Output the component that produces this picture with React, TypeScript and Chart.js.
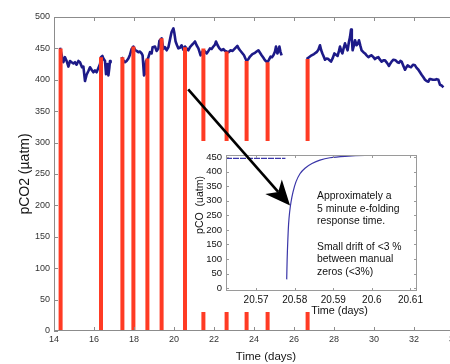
import React, { useEffect, useRef } from 'react';
import { Chart, registerables } from 'chart.js';

Chart.register(...registerables);

// ---------- main chart data ----------
const xTickDays = [14, 16, 18, 20, 22, 24, 26, 28, 30, 32, 34];
const yTickValues = [0, 50, 100, 150, 200, 250, 300, 350, 400, 450, 500];

// pCO2 time series (null = gap in record)
const seriesDays = [
  14.30, 14.38, 14.47, 14.55, 14.63, 14.72, 14.80, 14.88, 14.97, 15.05, 15.13, 15.22, 15.30, 15.40, 15.47, 15.55,
  15.63, 15.72, 15.80, 15.88, 15.97, 16.05, 16.13, 16.22, 16.30, 16.35, 16.42, 16.47, 16.55, 16.60, 16.67, 16.72,
  16.77, 16.80, 16.83,
  17.10,
  17.38, 17.45, 17.55, 17.63, 17.72, 17.80, 17.88, 17.97, 18.05, 18.13, 18.22, 18.30, 18.38, 18.43, 18.50, 18.55,
  18.60, 18.67, 18.72, 18.80, 18.88, 18.93, 19.05, 19.13, 19.22, 19.27, 19.38, 19.47, 19.55, 19.63, 19.72, 19.83,
  19.88, 19.97, 20.02, 20.08, 20.15, 20.22, 20.30, 20.38, 20.47, 20.55, 20.63, 20.72, 20.80, 20.88, 20.97, 21.05,
  21.13, 21.22, 21.33, 21.40, 21.47, 21.55, 21.63, 21.72, 21.80, 21.88, 21.97, 22.05, 22.10, 22.18, 22.27, 22.37,
  22.47, 22.55, 22.63, 22.72, 22.83, 22.93, 23.05, 23.17, 23.23, 23.30, 23.40, 23.50, 23.57, 23.63, 23.72, 23.80,
  23.92, 24.05, 24.13, 24.22, 24.30, 24.38, 24.47, 24.55, 24.62, 24.68, 24.75, 24.83, 24.90, 24.97, 25.05, 25.10,
  25.17, 25.22, 25.27, 25.32, 25.38,
  26.00,
  26.63, 26.75, 26.88, 27.00, 27.13, 27.22, 27.30, 27.36, 27.42, 27.50, 27.55, 27.63, 27.72, 27.78, 27.85, 27.93,
  28.02, 28.10, 28.18, 28.25, 28.30, 28.36, 28.42, 28.48, 28.55, 28.62, 28.68, 28.75, 28.80, 28.85, 28.89, 28.93,
  29.00, 29.05, 29.13, 29.20, 29.25, 29.32, 29.38, 29.47, 29.55, 29.63, 29.72, 29.80, 29.88, 29.97, 30.05, 30.13,
  30.22, 30.30, 30.38, 30.47, 30.55, 30.65, 30.75, 30.82, 30.88, 30.97, 31.08, 31.17, 31.25, 31.32, 31.38, 31.47,
  31.55, 31.62, 31.68, 31.77, 31.85, 31.95, 32.05, 32.13, 32.22, 32.30, 32.38, 32.47, 32.55, 32.63, 32.72, 32.78,
  32.85, 32.95, 33.05, 33.13, 33.22, 33.30, 33.38, 33.47,
];
const seriesValues = [
  451, 440, 428, 436, 430, 421, 430, 428, 426, 428, 424, 430, 428, 420, 421, 398,
  408, 414, 420, 416, 412, 415, 412, 419, 425, 436, 438, 434, 430, 409, 425, 407,
  420, 430, 428,
  null,
  436, 432, 428, 430, 434, 440, 449, 453, 448, 446, 444, 445, 442, 439, 407, 410,
  430, 432, 436, 444, 442, 452, 453, 446, 450, 462, 466, 449, 452, 447, 452, 469,
  476, 482, 474, 461, 455, 450, 451, 455, 448, 453, 450, 447, 452, 455, 458, 461,
  455, 450, 439, 444, 447, 445, 442, 446, 450, 449, 453, 456, 461, 455, 450, 447,
  449, 446, 445, 444, 447, 446, 450, 454, 450, 447, 443, 439, 434, 430, 433, 437,
  441, 443, 445, 447, 443, 439, 435, 431, 429, 428, 432, 437, 436, 439, 445, 453,
  442, 446, 453, 445, 439,
  null,
  433, 436, 439, 441, 444, 448, 455, 447, 442, 436, 432, 434, 433, 431, 429, 434,
  442, 440, 438, 446, 453, 446, 442, 450, 458, 452, 447, 461, 468, 480, 466, 447,
  455, 463, 455, 458, 463, 454, 447, 444, 442, 439, 436, 438, 439, 436, 433, 435,
  436, 432, 429, 431, 431, 427, 422, 426, 429, 432, 431, 428, 427, 430, 429, 422,
  416, 420, 423, 421, 420, 424, 423, 419, 416, 412, 408, 404, 400, 398, 397, 401,
  401, 400, 400, 401, 400, 392, 391, 388,
];

// manual zero calibrations: time and reading just before the zero
const zeroDays = [14.33, 16.35, 17.42, 17.97, 18.67, 19.38, 20.55, 21.47, 22.63, 23.63, 24.68, 26.68];
const zeroTops = [450, 436, 436, 453, 434, 466, 452, 450, 445, 430, 428, 433];

// ---------- inset data ----------
const insetXTicks = [20.57, 20.58, 20.59, 20.6, 20.61];
const insetYTicks = [0, 50, 100, 150, 200, 250, 300, 350, 400, 450];
const insetFlatDays = [20.5622, 20.5700, 20.5776];
const insetFlatValues = [446, 446, 446];
const insetRiseDays = [
  20.57793, 20.57805, 20.57821, 20.57842, 20.57868, 20.57904, 20.57956, 20.58033,
  20.58137, 20.58267, 20.58448, 20.58655, 20.58914, 20.59303, 20.59821, 20.61168,
];
const insetRiseValues = [30, 100, 160, 220, 260, 295, 330, 365, 393, 412, 428, 440, 448, 453, 456, 457];
const arrowFrom = { x: 20.5524, y: 683 };
const arrowTo = { x: 20.5788, y: 284 };
const noteLines = [
  'Approximately a',
  '5 minute e-folding',
  'response time.',
  '',
  'Small drift of <3 %',
  'between manual',
  'zeros (<3%)',
];

const FONT = "'Liberation Sans', Arial, Helvetica, sans-serif";
const NAVY = '#1d1a88';
const RED = '#ff3b24';
const FRAME = '#8c8c8c';

function fixTicks(values: number[]) {
  return (scale: any) => {
    scale.ticks = values.map((v) => ({ value: v }));
  };
}

function drawFrameAndTicks(chart: any, xVals: number[], yVals: number[], len: number, color: string) {
  const { ctx, chartArea } = chart;
  const xs = chart.scales.x;
  const ys = chart.scales.y;
  ctx.save();
  ctx.strokeStyle = color;
  ctx.lineWidth = 1;
  ctx.strokeRect(chartArea.left + 0.5, chartArea.top + 0.5, chartArea.right - chartArea.left - 1, chartArea.bottom - chartArea.top - 1);
  ctx.beginPath();
  xVals.forEach((v) => {
    const px = Math.round(xs.getPixelForValue(v)) + 0.5;
    ctx.moveTo(px, chartArea.bottom);
    ctx.lineTo(px, chartArea.bottom - len);
    ctx.moveTo(px, chartArea.top);
    ctx.lineTo(px, chartArea.top + len);
  });
  yVals.forEach((v) => {
    const py = Math.round(ys.getPixelForValue(v)) + 0.5;
    ctx.moveTo(chartArea.left, py);
    ctx.lineTo(chartArea.left + len, py);
    ctx.moveTo(chartArea.right, py);
    ctx.lineTo(chartArea.right - len, py);
  });
  ctx.stroke();
  ctx.restore();
}

export default function App() {
  const mainRef = useRef<HTMLCanvasElement>(null);
  const insetRef = useRef<HTMLCanvasElement>(null);

  useEffect(() => {
    if (!mainRef.current || !insetRef.current) return;

    const bluePts = seriesDays.map((d, i) => ({ x: d, y: seriesValues[i] }));
    const redPts: any[] = [];
    zeroDays.forEach((d, i) => {
      redPts.push({ x: d, y: 0 }, { x: d, y: zeroTops[i] }, { x: d, y: null });
    });

    const mainDeco = {
      id: 'mainDeco',
      afterDraw(chart: any) {
        drawFrameAndTicks(chart, xTickDays, yTickValues, 4, FRAME);
        const { ctx, chartArea } = chart;
        ctx.save();
        ctx.fillStyle = '#151515';
        ctx.font = `11.5px ${FONT}`;
        ctx.textAlign = 'center';
        ctx.textBaseline = 'middle';
        ctx.fillText('Time (days)', (chartArea.left + chartArea.right) / 2 + 12, chartArea.bottom + 26);
        ctx.restore();
      },
    };

    const main = new Chart(mainRef.current, {
      type: 'line',
      data: {
        datasets: [
          {
            data: redPts,
            borderColor: RED,
            borderWidth: 4,
            pointRadius: 0,
            spanGaps: false,
            borderCapStyle: 'butt',
            order: 0,
          },
          {
            data: bluePts,
            borderColor: NAVY,
            borderWidth: 2.6,
            pointRadius: 0,
            spanGaps: false,
            borderJoinStyle: 'round',
            order: 1,
          },
        ],
      },
      options: {
        responsive: false,
        animation: false,
        layout: { padding: { left: 0, right: 16, top: 17, bottom: 0 } },
        plugins: { legend: { display: false }, tooltip: { enabled: false } },
        scales: {
          x: {
            type: 'linear',
            min: 14,
            max: 34,
            afterBuildTicks: fixTicks(xTickDays),
            afterFit: (s: any) => {
              s.height = 33;
            },
            grid: { display: false, drawTicks: false },
            border: { display: false },
            ticks: {
              font: { family: FONT, size: 9 },
              color: '#333',
              padding: 3,
              maxRotation: 0,
              autoSkip: false,
              callback: (v: any) => String(v),
            },
          },
          y: {
            type: 'linear',
            min: 0,
            max: 500,
            afterBuildTicks: fixTicks(yTickValues),
            afterFit: (s: any) => {
              s.width = 54;
            },
            grid: { display: false, drawTicks: false },
            border: { display: false },
            ticks: {
              font: { family: FONT, size: 9 },
              color: '#333',
              padding: 4,
              autoSkip: false,
              callback: (v: any) => String(v),
            },
            title: {
              display: true,
              text: 'pCO2 (µatm)',
              font: { family: FONT, size: 14 },
              color: '#151515',
              padding: { top: 17, bottom: 0 },
            },
          },
        },
      },
      plugins: [mainDeco],
    } as any);

    const flatPts = insetFlatDays.map((d, i) => ({ x: d, y: insetFlatValues[i] }));
    const risePts = insetRiseDays.map((d, i) => ({ x: d, y: insetRiseValues[i] }));

    const insetDeco = {
      id: 'insetDeco',
      beforeDraw(chart: any) {
        const { ctx, chartArea } = chart;
        ctx.save();
        ctx.fillStyle = '#ffffff';
        ctx.fillRect(chartArea.left - 36, chartArea.top - 14, chartArea.right - chartArea.left + 44, chartArea.bottom - chartArea.top + 35);
        ctx.restore();
      },
      afterDraw(chart: any) {
        const { ctx, chartArea } = chart;
        const xs = chart.scales.x;
        const ys = chart.scales.y;
        drawFrameAndTicks(chart, insetXTicks, insetYTicks, 3, '#9a9a9a');
        ctx.save();
        ctx.fillStyle = '#111';
        // axis titles
        ctx.font = `10.8px ${FONT}`;
        ctx.textAlign = 'center';
        ctx.textBaseline = 'middle';
        ctx.fillText('Time (days)', (chartArea.left + chartArea.right) / 2 + 18, chartArea.bottom + 20);
        ctx.save();
        ctx.translate(chartArea.left - 26, chartArea.top + 50);
        ctx.rotate(-Math.PI / 2);
        ctx.font = `10.5px ${FONT}`;
        ctx.fillText('pCO  (uatm)', 0, 0);
        ctx.restore();
        // note
        ctx.font = `10.4px ${FONT}`;
        ctx.textAlign = 'left';
        noteLines.forEach((t, i) => {
          if (t) ctx.fillText(t, chartArea.left + 91, chartArea.top + 41 + i * 12.7);
        });
        // arrow
        const x0 = xs.getPixelForValue(arrowFrom.x);
        const y0 = ys.getPixelForValue(arrowFrom.y);
        const x1 = xs.getPixelForValue(arrowTo.x);
        const y1 = ys.getPixelForValue(arrowTo.y);
        const L = Math.hypot(x1 - x0, y1 - y0);
        const ux = (x1 - x0) / L;
        const uy = (y1 - y0) / L;
        const nx = -uy;
        const ny = ux;
        const headLen = 25;
        const halfW = 11;
        const notch = 18;
        const bx = x1 - headLen * ux;
        const by = y1 - headLen * uy;
        const kx = x1 - notch * ux;
        const ky = y1 - notch * uy;
        ctx.strokeStyle = '#000';
        ctx.lineWidth = 2.6;
        ctx.beginPath();
        ctx.moveTo(x0, y0);
        ctx.lineTo(kx, ky);
        ctx.stroke();
        ctx.fillStyle = '#000';
        ctx.beginPath();
        ctx.moveTo(x1, y1);
        ctx.lineTo(bx + halfW * nx, by + halfW * ny);
        ctx.lineTo(kx, ky);
        ctx.lineTo(bx - halfW * nx, by - halfW * ny);
        ctx.closePath();
        ctx.fill();
        ctx.restore();
      },
    };

    const inset = new Chart(insetRef.current, {
      type: 'line',
      data: {
        datasets: [
          { data: flatPts, borderColor: '#3a36a8', borderWidth: 1.3, pointRadius: 0, borderDash: [6, 1] },
          { data: risePts, borderColor: '#3a36a8', borderWidth: 1.2, pointRadius: 0, tension: 0.3 },
        ],
      },
      options: {
        responsive: false,
        animation: false,
        layout: { padding: { left: 0, right: 33, top: 155, bottom: 0 } },
        plugins: { legend: { display: false }, tooltip: { enabled: false } },
        scales: {
          x: {
            type: 'linear',
            min: 20.5622,
            max: 20.6117,
            afterBuildTicks: fixTicks(insetXTicks),
            afterFit: (s: any) => {
              s.height = 73;
            },
            grid: { display: false, drawTicks: false },
            border: { display: false },
            ticks: {
              font: { family: FONT, size: 10 },
              color: '#111',
              padding: 3,
              maxRotation: 0,
              autoSkip: false,
              callback: (v: any) => String(Number(Number(v).toFixed(2))),
            },
          },
          y: {
            type: 'linear',
            min: -10,
            max: 457.5,
            afterBuildTicks: fixTicks(insetYTicks),
            afterFit: (s: any) => {
              s.width = 226;
            },
            grid: { display: false, drawTicks: false },
            border: { display: false },
            ticks: {
              font: { family: FONT, size: 9.5 },
              color: '#111',
              padding: 4,
              autoSkip: false,
              callback: (v: any) => String(v),
            },
          },
        },
      },
      plugins: [insetDeco],
    } as any);

    return () => {
      main.destroy();
      inset.destroy();
    };
  }, []);

  return (
    <div
      style={{
        position: 'fixed',
        left: 0,
        top: 0,
        width: 450,
        height: 364,
        overflow: 'hidden',
        background: '#ffffff',
      }}
    >
      <canvas ref={mainRef} width={470} height={364} style={{ position: 'absolute', left: 0, top: 0, width: 470, height: 364 }} />
      <canvas ref={insetRef} width={450} height={364} style={{ position: 'absolute', left: 0, top: 0, width: 450, height: 364 }} />
    </div>
  );
}
